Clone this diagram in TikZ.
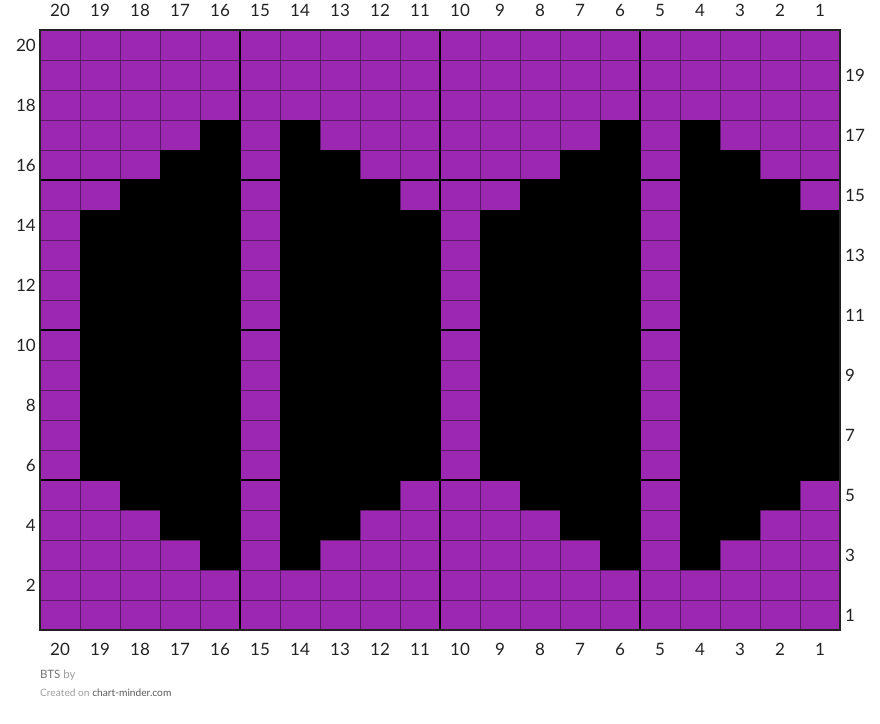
\documentclass[tikz,border=0pt]{standalone}
\usepackage{fontspec}
\setmainfont{Lato}
\usepackage{xcolor}
\definecolor{stitchpurple}{HTML}{9C27B0}
\definecolor{gridline}{HTML}{5A1A66}
\definecolor{labeltext}{HTML}{222222}

\begin{document}
\begin{tikzpicture}[x=40pt, y=30pt]
\tikzstyle{every node}=[font=\fontsize{17}{20}\selectfont, text=labeltext, inner sep=0pt]
\tikzstyle{thinline}=[gridline, line width=0.8pt]
\tikzstyle{thickline}=[black, line width=2pt]

\useasboundingbox (-1, -3.1) rectangle (21, 21);

\fill[stitchpurple] (0, 0) rectangle (20, 20);
\foreach \i in {1,...,19} {
    \draw[thinline] (\i, 0) -- (\i, 20);
    \draw[thinline] (0, \i) -- (20, \i);
}

% black stitches, row by row
\foreach \r/\cols in {3/{16,14,6,4}, 17/{16,14,6,4},
                      4/{17,16,14,13,7,6,4,3}, 16/{17,16,14,13,7,6,4,3},
                      5/{18,17,16,14,13,12,8,7,6,4,3,2},
                      15/{18,17,16,14,13,12,8,7,6,4,3,2}}
    \foreach \c in \cols
        \fill[black] (20-\c, \r-1) rectangle (21-\c, \r);

% rows 6 to 14
\fill[black] (1, 5) rectangle (5, 14);
\fill[black] (6, 5) rectangle (10, 14);
\fill[black] (11, 5) rectangle (15, 14);
\fill[black] (16, 5) rectangle (20, 14);

% every 5 stitches
\foreach \i in {5, 10, 15} {
    \draw[thickline] (\i, 0) -- (\i, 20);
    \draw[thickline] (0, \i) -- (20, \i);
}
\draw[labeltext, line width=2.5pt] (0, 0) rectangle (20, 20);

% column numbers
\foreach \c in {1,...,20} {
    \node (top\c) at (20.5-\c, 20.667) {\c};
    \node (bot\c) at (20.5-\c, -0.633) {\c};
}
% row numbers
\foreach \r in {2,4,...,20}
    \node[anchor=east] (left\r) at (-0.1, \r-0.5) {\r};
\foreach \r in {1,3,...,19}
    \node[anchor=west] (right\r) at (20.125, \r-0.5) {\r};

\node[anchor=west, font=\fontsize{11.5}{13}\selectfont] (title) at (0, -1.5)
    {\textcolor{black!55}{BTS} \textcolor{black!38}{by}};
\node[anchor=west, font=\fontsize{10.2}{12}\selectfont] (credit) at (0, -2.1)
    {\textcolor{black!38}{Created on} \textcolor{black!65}{chart-minder.com}};

\end{tikzpicture}
\end{document}
